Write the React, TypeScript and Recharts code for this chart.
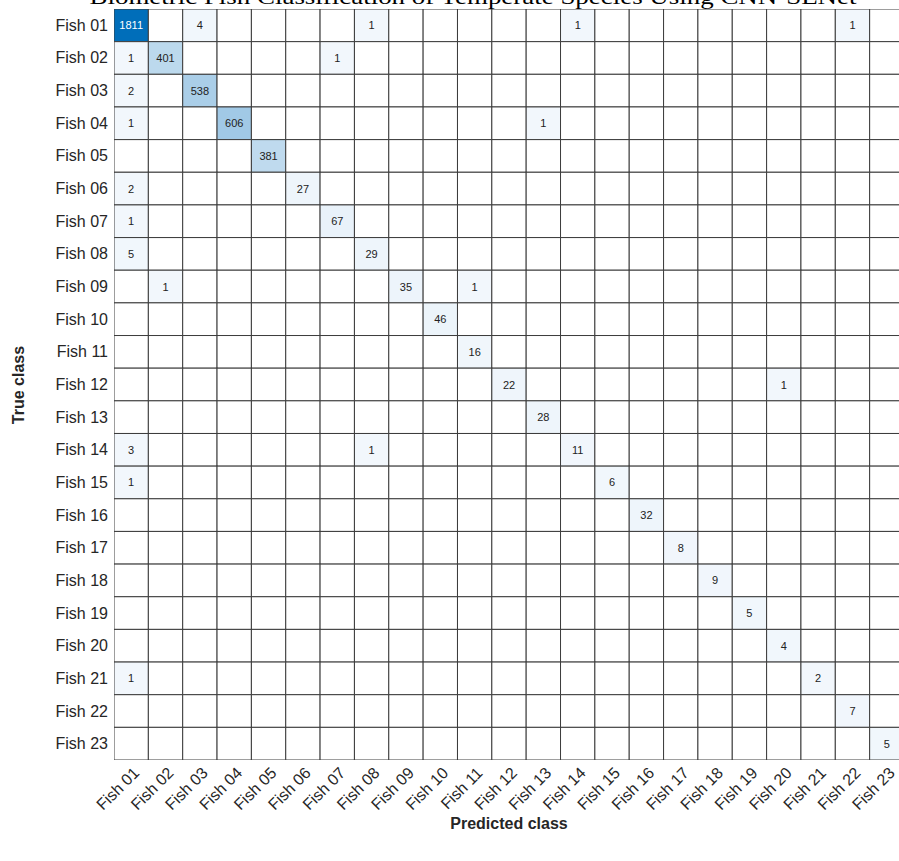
import { ScatterChart, Scatter, XAxis, YAxis } from 'recharts';

// Confusion matrix — CNN-SENet, 23 temperate fish species

const classes = [
  'Fish 01', 'Fish 02', 'Fish 03', 'Fish 04', 'Fish 05', 'Fish 06', 'Fish 07', 'Fish 08',
  'Fish 09', 'Fish 10', 'Fish 11', 'Fish 12', 'Fish 13', 'Fish 14', 'Fish 15', 'Fish 16',
  'Fish 17', 'Fish 18', 'Fish 19', 'Fish 20', 'Fish 21', 'Fish 22', 'Fish 23',
];

// diagonal (correct predictions)
const correct = [1811, 401, 538, 606, 381, 27, 67, 29, 35, 46, 16, 22, 28, 11, 6, 32, 8, 9, 5, 4, 2, 7, 5];

// off-diagonal: [true row, predicted col, count], 1-based
const errors: [number, number, number][] = [
  [1, 3, 4], [1, 8, 1], [1, 14, 1], [1, 22, 1],
  [2, 1, 1], [2, 7, 1],
  [3, 1, 2],
  [4, 1, 1], [4, 13, 1],
  [6, 1, 2],
  [7, 1, 1],
  [8, 1, 5],
  [9, 2, 1], [9, 11, 1],
  [12, 20, 1],
  [14, 1, 3], [14, 8, 1],
  [15, 1, 1],
  [21, 1, 1],
];

const W = 910;
const H = 861;
const M = { top: 9, right: 6, left: 0, bottom: 0 };
const Y_W = 114;
const X_H = 101;
const N = classes.length;
const CW = (W - M.left - M.right - Y_W) / N;
const CH = (H - M.top - M.bottom - X_H) / N;
const PLOT_BOTTOM = H - M.bottom - X_H;

const maxVal = Math.max(...correct);
const ticks = classes.map((_, i) => i + 1);

const cells = (() => {
  const grid: number[][] = classes.map(() => classes.map(() => 0));
  correct.forEach((v, i) => (grid[i][i] = v));
  errors.forEach(([r, c, v]) => (grid[r - 1][c - 1] = v));
  const out: { x: number; y: number; v: number }[] = [];
  grid.forEach((row, r) => row.forEach((v, c) => out.push({ x: c + 1, y: r + 1, v })));
  return out;
})();

function cellColor(v: number) {
  if (v === 0) return '#ffffff';
  const t = v / maxVal;
  const from = [242, 247, 252];
  const to = [0, 110, 186];
  const c = from.map((f, i) => Math.round(f + (to[i] - f) * t));
  return `rgb(${c[0]},${c[1]},${c[2]})`;
}

const FONT = '"Liberation Sans", Arial, Helvetica, sans-serif';

const Cell = (props: any) => {
  const { cx, cy, payload } = props;
  const v = payload.v as number;
  return (
    <g>
      <rect
        x={cx - CW / 2}
        y={cy - CH / 2}
        width={CW}
        height={CH}
        fill={cellColor(v)}
        stroke="#3c3c3c"
        strokeWidth={1}
      />
      {v > 0 && (
        <text
          x={cx}
          y={cy}
          textAnchor="middle"
          dominantBaseline="central"
          fontSize={11}
          fontFamily={FONT}
          fill={v / maxVal > 0.6 ? '#ffffff' : '#222222'}
        >
          {v}
        </text>
      )}
    </g>
  );
};

const XTick = (props: any) => {
  const { x, payload } = props;
  const ax = x + 9;
  const ay = PLOT_BOTTOM + 14;
  return (
    <text
      x={ax}
      y={ay}
      textAnchor="end"
      fontSize={16}
      fontFamily={FONT}
      fill="#262626"
      transform={`rotate(-45 ${ax} ${ay})`}
    >
      {classes[payload.value - 1]}
    </text>
  );
};

const YTick = (props: any) => {
  const { y, payload } = props;
  return (
    <text
      x={108}
      y={y}
      textAnchor="end"
      dominantBaseline="central"
      fontSize={16}
      fontFamily={FONT}
      fill="#262626"
    >
      {classes[payload.value - 1]}
    </text>
  );
};

export default function App() {
  return (
    <div style={{ position: 'absolute', left: 0, top: 0, width: 899, height: 861, overflow: 'hidden', background: '#fff' }}>
      <ScatterChart width={W} height={H} margin={M}>
        <XAxis
          type="number"
          dataKey="x"
          domain={[0.5, N + 0.5]}
          ticks={ticks}
          interval={0}
          height={X_H}
          tick={<XTick />}
          tickLine={false}
          axisLine={false}
          allowDataOverflow
        />
        <YAxis
          type="number"
          dataKey="y"
          domain={[0.5, N + 0.5]}
          ticks={ticks}
          interval={0}
          reversed
          width={Y_W}
          tick={<YTick />}
          tickLine={false}
          axisLine={false}
          allowDataOverflow
        />
        <Scatter data={cells} shape={<Cell />} isAnimationActive={false} />
        <text
          x={473}
          y={4}
          textAnchor="middle"
          fontSize={22}
          fontFamily='"Liberation Serif", "DejaVu Serif", serif'
          fill="#000"
          textLength={767}
          lengthAdjust="spacingAndGlyphs"
        >
          Biometric Fish Classification of Temperate Species Using CNN-SENet
        </text>
        <text
          x={509}
          y={823}
          textAnchor="middle"
          dominantBaseline="central"
          fontSize={16}
          fontWeight="bold"
          fontFamily={FONT}
          fill="#262626"
        >
          Predicted class
        </text>
        <text
          x={18}
          y={385}
          textAnchor="middle"
          dominantBaseline="central"
          fontSize={16}
          fontWeight="bold"
          fontFamily={FONT}
          fill="#262626"
          transform="rotate(-90 18 385)"
        >
          True class
        </text>
      </ScatterChart>
    </div>
  );
}
